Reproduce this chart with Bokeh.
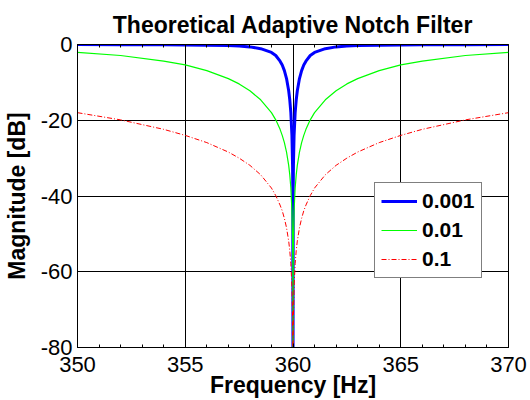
from bokeh.plotting import figure
from bokeh.models import (LinearAxis, SingleIntervalTicker, FixedTicker, Range1d,
                          Legend, LegendItem)
from bokeh.embed import file_html
from bokeh.resources import INLINE

# Frequency samples [Hz]
freq = [350, 352, 354, 355, 356, 357, 357.5, 358, 358.5, 359, 359.2, 359.4, 359.5,
        359.6, 359.7, 359.8, 359.85, 359.9, 359.95, 359.98, 359.99, 360,
        360.01, 360.02, 360.05, 360.1, 360.15, 360.2, 360.3, 360.4, 360.5, 360.6,
        360.8, 361, 361.5, 362, 362.5, 363, 364, 365, 366, 368, 370]

# Magnitude [dB] (notch bottom runs off the axis)
mag_0001 = [-0.03, -0.04, -0.07, -0.11, -0.17, -0.29, -0.41, -0.63, -1.1, -2.1, -2.9, -4.4, -5.4,
            -6.9, -9.0, -12.2, -14.6, -18.0, -24.0, -31.9, -37.9, -100,
            -37.9, -31.9, -24.0, -18.0, -14.6, -12.2, -9.0, -6.9, -5.4, -4.4,
            -2.9, -2.1, -1.1, -0.63, -0.41, -0.29, -0.17, -0.11, -0.07, -0.04, -0.03]
mag_001 = [-2.1, -2.9, -4.4, -5.4, -6.9, -9.0, -10.4, -12.2, -14.6, -18.0, -19.9, -22.4, -24.0,
           -25.9, -28.4, -31.9, -34.4, -37.9, -43.9, -51.9, -57.9, -100,
           -57.9, -51.9, -43.9, -37.9, -34.4, -31.9, -28.4, -25.9, -24.0, -22.4,
           -19.9, -18.0, -14.6, -12.2, -10.4, -9.0, -6.9, -5.4, -4.4, -2.9, -2.1]
mag_01 = [-18.0, -19.9, -22.4, -24.0, -25.9, -28.4, -30.0, -31.9, -34.4, -37.9, -39.9, -42.4, -43.9,
          -45.9, -48.4, -51.9, -54.4, -57.9, -63.9, -71.9, -77.9, -100,
          -77.9, -71.9, -63.9, -57.9, -54.4, -51.9, -48.4, -45.9, -43.9, -42.4,
          -39.9, -37.9, -34.4, -31.9, -30.0, -28.4, -25.9, -24.0, -22.4, -19.9, -18.0]

labels = ["0.001", "0.01", "0.1"]
x_ticks = [350, 355, 360, 365, 370]
y_ticks = [-80, -60, -40, -20, 0]

FONT = "Liberation Sans"

p = figure(width=530, height=400, output_backend="svg", toolbar_location=None,
           x_range=Range1d(350, 370), y_range=Range1d(-80, 0),
           min_border_left=75, min_border_right=22, min_border_top=44, min_border_bottom=53)

p.title.text = "Theoretical Adaptive Notch Filter"
p.title.text_font = FONT
p.title.text_font_size = "23px"
p.title.text_font_style = "bold"
p.title.text_color = "black"
p.title.align = "center"
p.title.offset = 0
p.title.standoff = 14

r1 = p.line(freq, mag_0001, line_color="#0000FF", line_width=3)
r2 = p.line(freq, mag_001, line_color="#00FF00", line_width=1.2)
r3 = p.line(freq, mag_01, line_color="#FF0000", line_width=1, line_dash="5 2 1 2")

p.outline_line_color = "black"
p.outline_line_width = 1

xa = p.xaxis[0]
xa.ticker = SingleIntervalTicker(interval=5, num_minor_ticks=5)
xa.axis_label = "Frequency [Hz]"
ya = p.yaxis[0]
ya.ticker = FixedTicker(ticks=y_ticks)
ya.major_label_overrides = {v: str(v) for v in y_ticks}
ya.axis_label = "Magnitude [dB]"

for ax in (xa, ya):
    ax.axis_label_text_font = FONT
    ax.axis_label_text_font_size = "23px"
    ax.axis_label_text_font_style = "bold"
    ax.axis_label_text_color = "black"
    ax.major_label_text_font = FONT
    ax.major_label_text_font_size = "22px"
    ax.major_label_text_color = "black"
    ax.axis_line_color = "black"
    ax.major_tick_in = 4
    ax.major_tick_out = 0
    ax.minor_tick_in = 3
    ax.minor_tick_out = 0
    ax.major_tick_line_color = "black"
    ax.minor_tick_line_color = "black"
xa.major_label_standoff = 9
xa.axis_label_standoff = -3
ya.major_label_standoff = 5
ya.axis_label_standoff = 8

top = LinearAxis(ticker=SingleIntervalTicker(interval=5, num_minor_ticks=5),
                 major_label_overrides={v: "" for v in x_ticks},
                 major_label_text_font_size="1px",
                 major_tick_in=4, major_tick_out=0,
                 minor_tick_in=3, minor_tick_out=0, major_label_standoff=0,
                 axis_line_color="black")
p.add_layout(top, "above")

for g in (p.xgrid[0], p.ygrid[0]):
    g.grid_line_color = "black"
    g.grid_line_width = 1
p.xgrid[0].ticker = SingleIntervalTicker(interval=5)
p.ygrid[0].ticker = FixedTicker(ticks=y_ticks)

legend = Legend(items=[LegendItem(label=labels[0], renderers=[r1]),
                       LegendItem(label=labels[1], renderers=[r2]),
                       LegendItem(label=labels[2], renderers=[r3])],
                location=(297, 69), orientation="vertical",
                label_text_font=FONT, label_text_font_size="21px", label_text_font_style="bold",
                label_text_color="black",
                glyph_width=36, glyph_height=24, label_height=24, label_standoff=5,
                spacing=5, padding=6, margin=0,
                border_line_color="black", border_line_width=1,
                background_fill_color="white", background_fill_alpha=1)
p.add_layout(legend, "center")

open("out.html", "w").write(file_html(p, INLINE))
